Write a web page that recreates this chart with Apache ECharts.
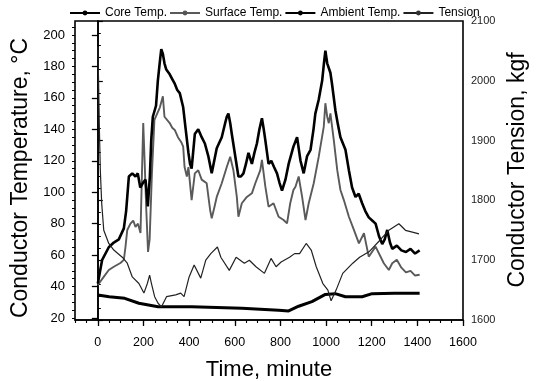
<!DOCTYPE html>
<html>
<head>
<meta charset="utf-8">
<script src="https://cdn.jsdelivr.net/npm/echarts@6/dist/echarts.min.js"></script>
<style>
html,body{margin:0;padding:0;background:#fff;}
#chart{width:540px;height:381px;}
</style>
</head>
<body>
<div id="chart"></div>
<script>
// [time (minute), value]
var coreTemp = [[0,42],[19,57],[48,65],[70,68],[92,70],[114,77],[124,88],[129,97],[136,110],[151,112],[165,110],[175,112],[186,103],[198,106],[209,108],[219,91],[228,110],[234,133],[241,148],[255,155],[263,171],[271,182],[278,191],[285,188],[292,182],[300,178],[315,175],[326,172],[337,169],[348,165],[359,163],[374,154],[385,140],[397,125],[404,118],[411,115],[425,137],[440,140],[455,135],[469,131],[484,123],[499,112],[510,120],[521,128],[543,135],[558,144],[565,148],[572,150],[580,144],[587,137],[602,123],[616,110],[627,110],[638,112],[649,118],[660,125],[675,118],[686,125],[697,131],[708,140],[719,147],[727,140],[734,133],[748,118],[760,120],[772,116],[785,112],[796,106],[807,101],[822,108],[836,118],[857,129],[873,135],[888,120],[902,112],[917,123],[932,127],[945,140],[953,150],[968,159],[983,171],[990,181],[997,190],[1005,182],[1019,176],[1026,169],[1041,152],[1052,143],[1063,135],[1085,127],[1100,114],[1114,103],[1129,97],[1143,99],[1158,93],[1172,88],[1187,84],[1202,82],[1217,80],[1232,72],[1246,67],[1257,70],[1268,76],[1280,68],[1290,64],[1310,66],[1330,63],[1350,62],[1370,64],[1390,61],[1410,63]];
var surfaceTemp = [[0,41],[25,46],[48,50.5],[70,52.6],[99,55],[114,57],[121,65],[129,76],[143,80],[155,82],[165,78],[176,80],[187,74],[193,110],[199,144],[205,120],[212,90],[220,62],[227,70],[237,112],[248,146],[260,150],[272,154],[285,161],[292,148],[300,147],[315,144],[326,141],[337,139.6],[351,135],[365,132],[374,129],[380,116],[390,110],[397,116],[411,95],[425,112],[440,114],[455,108],[477,105.7],[492,88.7],[499,83.4],[510,90],[521,97],[543,105.7],[565,116],[580,122.6],[594,114],[609,97],[616,84.4],[631,93],[653,97],[675,99.3],[690,105.7],[712,114],[719,120.5],[734,103.5],[748,90.8],[770,93],[792,84.4],[814,82.3],[829,80.2],[843,93],[857,101.4],[866,103.5],[880,110],[895,97.2],[910,82.3],[924,93],[946,105.7],[968,122.6],[990,141.7],[997,156.6],[1005,148],[1012,143.9],[1019,150.2],[1034,133],[1049,114],[1063,101.4],[1078,95],[1100,84.4],[1122,76],[1144,67.5],[1166,73.9],[1187,59],[1217,65.4],[1253,54.8],[1275,50.5],[1290,54.8],[1310,57],[1330,52],[1350,49],[1370,50],[1390,47],[1410,47.5]];
var ambientTemp = [[0,34.6],[50,33.5],[118,32.5],[180,29.4],[264,27.2],[411,27.2],[631,26.2],[792,25],[836,24.5],[880,27.5],[938,30.4],[997,35],[1040,35.5],[1085,33.5],[1158,33.5],[1202,35.5],[1300,35.8],[1410,35.8]];
var tension = [[0,2057],[3,2005],[7,1917],[11,1850],[17,1795],[26,1750],[48,1728],[70,1717],[107,1705],[129,1695],[151,1672],[180,1661],[202,1645],[217,1661],[227,1675],[235,1661],[249,1639],[264,1628],[279,1622],[301,1639],[341,1642],[363,1645],[378,1639],[400,1672],[422,1692],[451,1670],[473,1700],[495,1711],[524,1722],[539,1705],[576,1683],[606,1705],[642,1695],[664,1700],[693,1689],[730,1678],[759,1703],[781,1689],[803,1697],[840,1705],[862,1711],[884,1711],[913,1728],[935,1717],[957,1689],[986,1661],[1008,1650],[1022,1632],[1044,1650],[1073,1678],[1117,1695],[1147,1705],[1188,1714],[1235,1733],[1275,1750],[1319,1761],[1348,1750],[1378,1747],[1407,1744]];

var xLabels = [0,200,400,600,800,1000,1200,1400,1600];
var tempLabels = [20,40,60,80,100,120,140,160,180,200];
var seriesNames = ['Core Temp.','Surface Temp.','Ambient Temp.','Tension'];

var xMinor = [], tMinor = [];
for (var v = -100; v <= 1600; v += 50) xMinor.push(v);
for (var w = 20; w <= 205; w += 5) tMinor.push(w);

function plain(val) { return String(val); }

var FONT = 'Liberation Sans, Arial, sans-serif';
var chart = echarts.init(document.getElementById('chart'), null, {renderer:'canvas'});
chart.setOption({
  animation: false,
  backgroundColor: '#fff',
  grid: {left: 75, right: 77, top: 21, bottom: 61, show: true, borderColor: '#000', borderWidth: 1.6, backgroundColor: 'transparent', containLabel: false, outerBoundsMode: 'none'},
  legend: {
    top: 2, left: 64, itemWidth: 30, itemHeight: 6, itemGap: 2,
    data: seriesNames,
    textStyle: {fontFamily: FONT, fontSize: 12, color: '#000'}
  },
  xAxis: [{
    type: 'value', min: -100, max: 1600,
    axisLine: {show: true, lineStyle: {color: '#000', width: 1.6}},
    axisTick: {show: true, inside: false, length: 6, customValues: xLabels, lineStyle: {color: '#000', width: 1.3}},
    axisLabel: {customValues: xLabels, formatter: plain, margin: 16, fontFamily: FONT, fontSize: 12.5, color: '#000'},
    splitLine: {show: false},
    name: 'Time, minute', nameLocation: 'middle', nameGap: 39,
    nameTextStyle: {fontFamily: FONT, fontSize: 22, color: '#000'}
  },{
    type: 'value', min: -100, max: 1600, position: 'bottom',
    axisLine: {show: false},
    axisTick: {show: true, length: 3, customValues: xMinor, lineStyle: {color: '#000', width: 1.1}},
    axisLabel: {show: false}, splitLine: {show: false}
  }],
  yAxis: [{
    type: 'value', min: 18.73, max: 208.9, position: 'left',
    axisLine: {show: true, lineStyle: {color: '#000', width: 1.6}},
    axisTick: {show: true, length: 6, customValues: tempLabels, lineStyle: {color: '#000', width: 1.3}},
    axisLabel: {customValues: tempLabels, formatter: plain, margin: 10, fontFamily: FONT, fontSize: 13, color: '#000'},
    splitLine: {show: false}
  },{
    type: 'value', min: 1600, max: 2100, interval: 100, position: 'right',
    axisLine: {show: true, lineStyle: {color: '#000', width: 1.6}},
    axisTick: {show: true, length: 5, lineStyle: {color: '#000', width: 1.2}},
    minorTick: {show: true, splitNumber: 5, length: 3, lineStyle: {color: '#000', width: 1}},
    axisLabel: {formatter: plain, margin: 8, fontFamily: FONT, fontSize: 11, color: '#222'},
    splitLine: {show: false}
  },{
    type: 'value', min: 18.73, max: 208.9, position: 'left',
    axisLine: {show: false},
    axisTick: {show: true, length: 3, customValues: tMinor, lineStyle: {color: '#000', width: 1}},
    axisLabel: {show: false}, splitLine: {show: false}
  }],
  graphic: [{
    type: 'text', x: 21, y: 178, rotation: Math.PI / 2,
    style: {text: 'Conductor Temperature, \u00b0C', fontFamily: FONT, fontSize: 23, fill: '#000', align: 'center', verticalAlign: 'middle'}
  },{
    type: 'text', x: 518, y: 170, rotation: Math.PI / 2,
    style: {text: 'Conductor Tension, kgf', fontFamily: FONT, fontSize: 23, fill: '#000', align: 'center', verticalAlign: 'middle'}
  }],
  series: [{
    name: seriesNames[0], type: 'line', xAxisIndex: 0, yAxisIndex: 0, data: coreTemp,
    symbol: 'circle', symbolSize: 4, showSymbol: false,
    itemStyle: {color: '#000'}, lineStyle: {color: '#000', width: 2.6}, z: 4
  },{
    name: seriesNames[1], type: 'line', xAxisIndex: 0, yAxisIndex: 0, data: surfaceTemp,
    symbol: 'circle', symbolSize: 3, showSymbol: false,
    itemStyle: {color: '#555'}, lineStyle: {color: '#5a5a5a', width: 1.9}, z: 3
  },{
    name: seriesNames[2], type: 'line', xAxisIndex: 0, yAxisIndex: 0, data: ambientTemp,
    symbol: 'circle', symbolSize: 4, showSymbol: false,
    itemStyle: {color: '#000'}, lineStyle: {color: '#000', width: 3}, z: 4
  },{
    name: seriesNames[3], type: 'line', xAxisIndex: 0, yAxisIndex: 1, data: tension,
    symbol: 'circle', symbolSize: 2.5, showSymbol: false,
    itemStyle: {color: '#333'}, lineStyle: {color: '#222', width: 1.2}, z: 5
  }]
});
</script>
</body>
</html>
